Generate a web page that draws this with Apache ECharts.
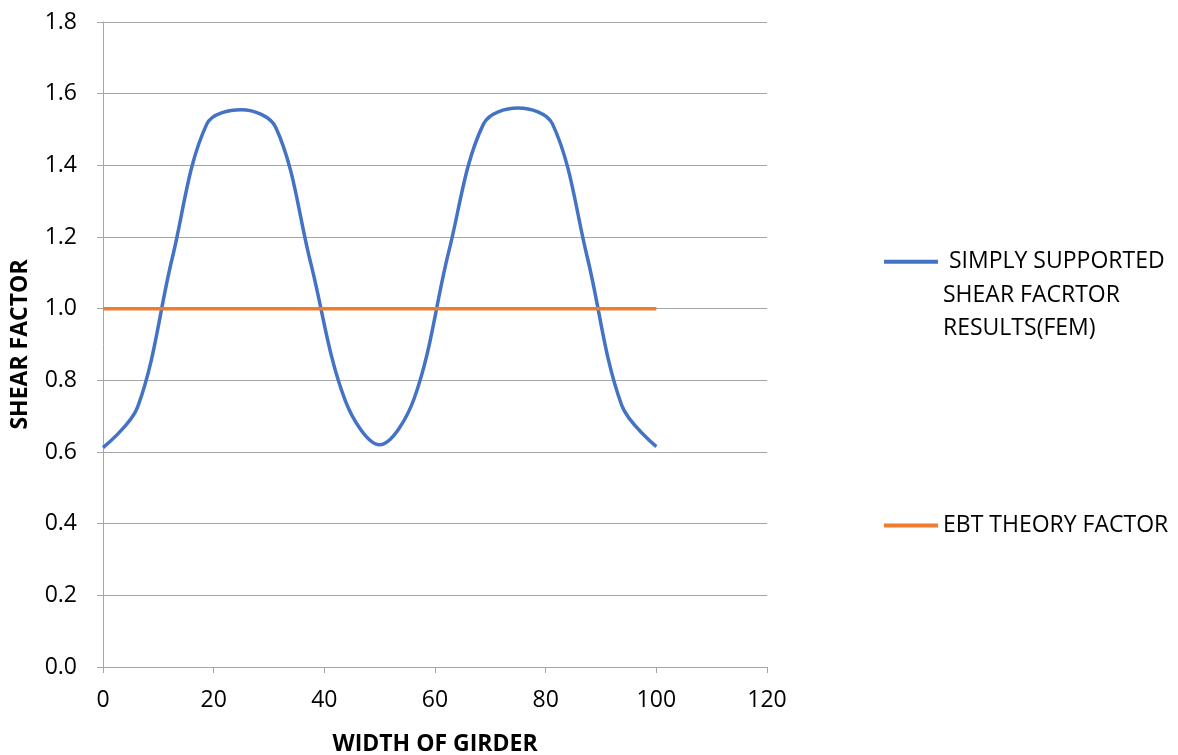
<!DOCTYPE html>
<html>
<head>
<meta charset="utf-8">
<script src="https://cdn.jsdelivr.net/npm/echarts@6/dist/echarts.min.js"></script>
<style>
  html, body { margin: 0; padding: 0; background: #fff; }
  #chart { width: 1178px; height: 755px; }
</style>
</head>
<body>
<div id="chart"></div>
<script>
// girder width positions (FEM sample points)
const widthX = [0, 6.25, 12.5, 18.75, 25, 31.25, 37.5, 43.75, 50, 56.25, 62.5, 68.75, 75, 81.25, 87.5, 93.75, 100];
// simply supported shear factor (FEM)
const femFactor = [0.612, 0.725, 1.14, 1.515, 1.555, 1.505, 1.13, 0.745, 0.62, 0.75, 1.16, 1.515, 1.56, 1.515, 1.145, 0.73, 0.615];
// EBT theory
const ebtX = [0, 100];
const ebtFactor = [1.0, 1.0];

const xTicks = { min: 0, max: 120, step: 20 };
const yTicks = { min: 0, max: 1.8, step: 0.2 };

const femName = ' SIMPLY SUPPORTED\nSHEAR FACRTOR\nRESULTS(FEM)';
const ebtName = 'EBT THEORY FACTOR';

const FONT = 'Open Sans';
const FS = 23;
const gray = '#a6a6a6';

const chart = echarts.init(document.getElementById('chart'));

chart.setOption({
  animation: false,
  backgroundColor: '#fff',
  grid: { left: 103, right: 411, top: 22, bottom: 88, outerBoundsMode: 'none' },
  legend: [
    {
      data: [femName],
      left: 884, top: 178, padding: 0,
      icon: 'rect', itemWidth: 54, itemHeight: 4,
      // pad two empty lines above so the first line sits level with the icon
      formatter: n => '\n\n' + n,
      textStyle: { fontFamily: FONT, fontSize: FS, color: '#000', lineHeight: 33.5 }
    },
    {
      data: [ebtName],
      left: 884, top: 514, padding: 0,
      icon: 'rect', itemWidth: 54, itemHeight: 4,
      textStyle: { fontFamily: FONT, fontSize: FS, color: '#000' }
    }
  ],
  xAxis: {
    type: 'value',
    min: xTicks.min, max: xTicks.max, interval: xTicks.step,
    name: 'WIDTH OF GIRDER',
    nameLocation: 'middle', nameGap: 66,
    nameTextStyle: { fontFamily: FONT, fontSize: FS, fontWeight: 'bold', color: '#000', verticalAlign: 'top' },
    axisLine: { show: true, lineStyle: { color: gray, width: 1 } },
    axisTick: { show: true, length: 6, lineStyle: { color: gray } },
    axisLabel: { fontFamily: FONT, fontSize: FS, color: '#000', margin: 22 },
    splitLine: { show: false }
  },
  yAxis: {
    type: 'value',
    min: yTicks.min, max: yTicks.max, interval: yTicks.step,
    name: 'SHEAR FACTOR',
    nameLocation: 'middle', nameGap: 71,
    nameTextStyle: { fontFamily: FONT, fontSize: FS, fontWeight: 'bold', color: '#000' },
    axisLine: { show: true, lineStyle: { color: gray, width: 1 } },
    axisTick: { show: true, length: 6, lineStyle: { color: gray } },
    axisLabel: { fontFamily: FONT, fontSize: FS, color: '#000', margin: 26, formatter: v => v.toFixed(1) },
    splitLine: { show: true, lineStyle: { color: gray, width: 1 } }
  },
  series: [
    {
      name: femName,
      type: 'line',
      data: widthX.map((x, i) => [x, femFactor[i]]),
      smooth: 0.35,
      showSymbol: false,
      symbol: 'none',
      lineStyle: { color: '#4472C4', width: 3.5 },
      itemStyle: { color: '#4472C4' }
    },
    {
      name: ebtName,
      type: 'line',
      data: ebtX.map((x, i) => [x, ebtFactor[i]]),
      showSymbol: false,
      symbol: 'none',
      lineStyle: { color: '#ED7D31', width: 3.5 },
      itemStyle: { color: '#ED7D31' }
    }
  ]
});
</script>
</body>
</html>
